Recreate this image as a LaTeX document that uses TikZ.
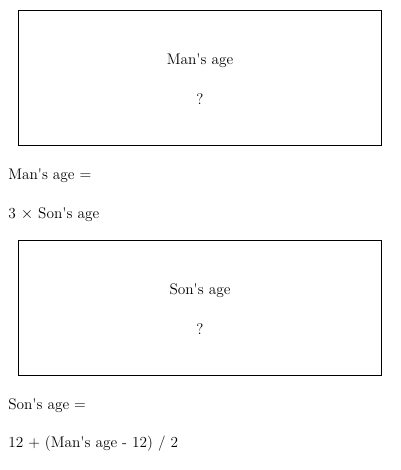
\documentclass[tikz,border=0pt]{standalone}
\usepackage{fontspec}
\setmainfont{Latin Modern Roman}
\begin{document}
\begin{tikzpicture}[x=0.75pt,y=-0.75pt,
  box/.style={draw=black,line width=0.75pt},
  lbl/.style={inner sep=0pt,font=\fontsize{11.5}{13}\selectfont},
  lft/.style={lbl,anchor=west}]
\useasboundingbox (0,0) rectangle (400,470);
\draw[box] (18.5,10.5) rectangle (381.5,145.5);
\node[lbl] (t1) at (200,61) {Man\textquotesingle s age};
\node[lbl] (q1) at (200,99) {?};
\node[lft] (e1) at (8,176) {Man\textquotesingle s age =};
\node[lft] (f1) at (8,215) {3 $\times$ Son\textquotesingle s age};
\draw[box] (18.5,240.5) rectangle (381.5,375.5);
\node[lbl] (t2) at (200,291) {Son\textquotesingle s age};
\node[lbl] (q2) at (200,329) {?};
\node[lft] (e2) at (8,406) {Son\textquotesingle s age =};
\node[lft] (f2) at (8,444) {12 + (Man\textquotesingle s age - 12) / 2};
\end{tikzpicture}
\end{document}
